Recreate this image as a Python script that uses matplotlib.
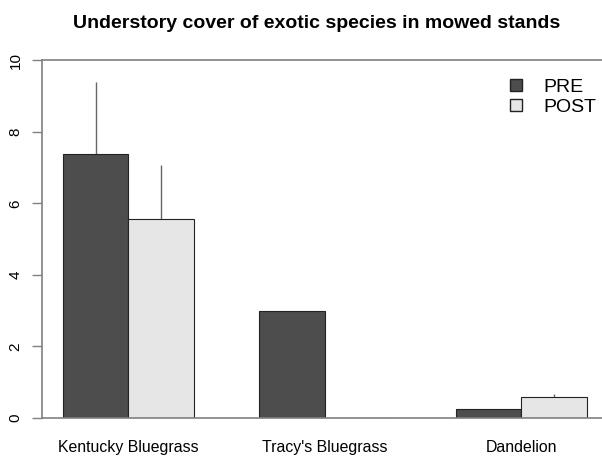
import matplotlib.pyplot as plt
from matplotlib.patches import Patch

plt.rcParams['font.family'] = ['Liberation Sans', 'DejaVu Sans']

# Datos
species = ['Kentucky Bluegrass', "Tracy's Bluegrass", 'Dandelion']
pre = [7.38, 3.0, 0.25]
post = [5.57, 0.0, 0.60]
pre_err = [2.01, 0.0, 0.0]
post_err = [1.50, 0.0, 0.08]

fig = plt.figure(figsize=(6.02, 4.59), dpi=100)
ax = fig.add_axes([0.0698, 0.0893, 0.9302, 0.7797])

# posiciones estilo barplot de R (space = c(0, 1))
x_pre = [1.5 + 3 * i for i in range(len(species))]
x_post = [2.5 + 3 * i for i in range(len(species))]

ax.bar(x_pre, pre, width=1.0, color='#4d4d4d', edgecolor='#222222', linewidth=0.8, zorder=2)
ax.bar(x_post, post, width=1.0, color='#e6e6e6', edgecolor='#222222', linewidth=0.8, zorder=2)

# barras de error (solo hacia arriba)
for xs, vals, errs in [(x_pre, pre, pre_err), (x_post, post, post_err)]:
    for x, v, e in zip(xs, vals, errs):
        if e > 0:
            ax.vlines(x, v, v + e, color='#666666', linewidth=1.0, zorder=1)

ax.set_xlim(0.68, 9.23)
ax.set_ylim(0, 10)
ax.set_yticks([0, 2, 4, 6, 8, 10])
ax.set_yticklabels(['0', '2', '4', '6', '8', '10'], rotation=90, va='center', fontsize=11)
ax.tick_params(axis='y', length=7, color='#808080', width=1.0, pad=7)

ax.set_xticks([2, 5, 8])
ax.set_xticklabels(species, fontsize=11.4)
ax.tick_params(axis='x', length=0, pad=16)

ax.spines['right'].set_visible(False)
for s in ['left', 'top', 'bottom']:
    ax.spines[s].set_color('#808080')
    ax.spines[s].set_linewidth(1.2)

ax.set_title('Understory cover of exotic species in mowed stands',
             fontsize=14, fontweight='bold', pad=23, x=0.49)

handles = [Patch(facecolor='#4d4d4d', edgecolor='#222222', label='PRE'),
           Patch(facecolor='#e6e6e6', edgecolor='#222222', label='POST')]
ax.legend(handles=handles, loc='upper right', bbox_to_anchor=(0.99, 0.948),
          borderaxespad=0, borderpad=0, frameon=False, fontsize=14,
          handlelength=0.6, handleheight=0.6, handletextpad=1.1, labelspacing=0.15)

fig.savefig('out.png', dpi=100)
